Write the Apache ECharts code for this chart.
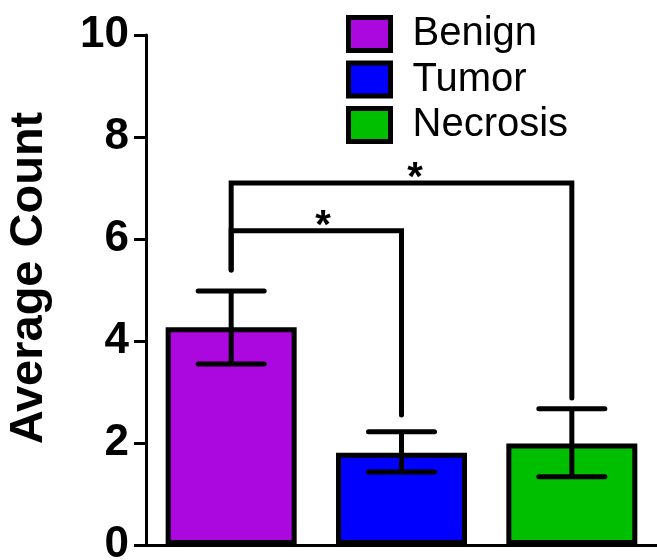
<!DOCTYPE html>
<html><head><meta charset="utf-8">
<script src="https://cdn.jsdelivr.net/npm/echarts@6/dist/echarts.min.js"></script>
<style>html,body{margin:0;padding:0;background:#fff}#c{width:657px;height:560px}</style>
</head><body><div id="c"></div>
<script>
const categories = ['Benign', 'Tumor', 'Necrosis'];
const means = [4.27, 1.81, 1.99];
const errLow = [3.55, 1.43, 1.34];
const errHigh = [4.98, 2.22, 2.67];
const colors = ['#AB08E0', '#0000FF', '#00BF00'];
const yMin = 0, yMax = 10, yStep = 2;
const yTitle = 'Average Count';
// significance brackets: from category, to category, bracket level, end level at "from", end level at "to", mark
const bracketFrom = [0, 0];
const bracketTo = [1, 2];
const bracketLevel = [6.16, 7.10];
const bracketFromEnd = [5.39, 5.39];
const bracketToEnd = [2.55, 2.88];
const bracketMark = ['*', '*'];

const FONT = 'Arial, "Liberation Sans", Helvetica, sans-serif';
const chart = echarts.init(document.getElementById('c'), null, {renderer: 'canvas'});

const barSeries = categories.map((name, i) => ({
  name, type: 'bar', barWidth: 131, barGap: '-100%',
  data: categories.map((c, j) => j === i ? means[i] : '-'),
  itemStyle: {color: colors[i], borderColor: '#000', borderWidth: 5},
  emphasis: {disabled: true}, z: 2
}));

const errSeries = {
  type: 'custom', name: 'err', z: 5, silent: true,
  data: categories.map((c, i) => [i, errLow[i], errHigh[i]]),
  encode: {x: 0, y: [1, 2]},
  renderItem: (params, api) => {
    const x = api.value(0);
    const lo = api.coord([x, api.value(1)]);
    const hi = api.coord([x, api.value(2)]);
    const hw = 33;
    const st = {stroke: '#000', lineWidth: 5, lineCap: 'round'};
    return {type: 'group', children: [
      {type: 'line', shape: {x1: lo[0], y1: lo[1], x2: hi[0], y2: hi[1]}, style: {stroke: '#000', lineWidth: 5}},
      {type: 'line', shape: {x1: lo[0] - hw, y1: lo[1], x2: lo[0] + hw, y2: lo[1]}, style: st},
      {type: 'line', shape: {x1: hi[0] - hw, y1: hi[1], x2: hi[0] + hw, y2: hi[1]}, style: st}
    ]};
  }
};

const bracketSeries = {
  type: 'custom', name: 'sig', z: 6, silent: true, clip: false,
  data: bracketFrom.map((f, i) => [f, bracketTo[i], bracketLevel[i], bracketFromEnd[i], bracketToEnd[i]]),
  encode: {x: [0, 1], y: [2, 3, 4]},
  renderItem: (params, api) => {
    const i = params.dataIndex;
    const a = api.value(0), b = api.value(1);
    const p1 = api.coord([a, api.value(3)]);
    const p2 = api.coord([a, api.value(2)]);
    const p3 = api.coord([b, api.value(2)]);
    const p4 = api.coord([b, api.value(4)]);
    const mx = p2[0] + (p3[0] - p2[0]) * 0.54;
    return {type: 'group', children: [
      {type: 'polyline', shape: {points: [p1, p2, p3, p4]},
       style: {stroke: '#000', lineWidth: 5, fill: null, lineJoin: 'miter', lineCap: 'round'}},
      {type: 'text', style: {text: bracketMark[i], x: mx, y: p2[1] - 4, align: 'center', verticalAlign: 'middle',
        font: 'bold 40px ' + FONT, fill: '#000'}}
    ]};
  }
};

chart.setOption({
  animation: false,
  backgroundColor: '#fff',
  grid: {left: 146, right: 0, top: 35, bottom: 15, containLabel: false, outerBoundsMode: 'none'},
  legend: {
    data: categories.map(n => ({name: n, icon: 'rect'})),
    orient: 'vertical', left: 346, top: 14, padding: 0,
    itemWidth: 42, itemHeight: 33, itemGap: 5.5,
    itemStyle: {borderColor: '#000', borderWidth: 5},
    textStyle: {fontSize: 40, fontFamily: FONT, color: '#000', padding: [0, 0, 0, 17]},
    selectedMode: false
  },
  xAxis: {
    type: 'category', data: categories,
    axisLine: {show: true, lineStyle: {color: '#000', width: 3}},
    axisTick: {show: false}, axisLabel: {show: false}, splitLine: {show: false}
  },
  yAxis: {
    type: 'value', min: yMin, max: yMax, interval: yStep,
    axisLine: {show: true, lineStyle: {color: '#000', width: 3}},
    axisTick: {show: true, length: 12, lineStyle: {color: '#000', width: 3}},
    axisLabel: {fontSize: 44, fontWeight: 'bold', fontFamily: FONT, color: '#000', margin: 17},
    splitLine: {show: false}
  },
  graphic: [{
    type: 'text', x: 29, y: 278, rotation: Math.PI / 2,
    style: {text: yTitle, font: 'bold 47px ' + FONT, fill: '#000', align: 'center', verticalAlign: 'middle'}
  }],
  series: [...barSeries, errSeries, bracketSeries]
});
</script>
</body></html>
